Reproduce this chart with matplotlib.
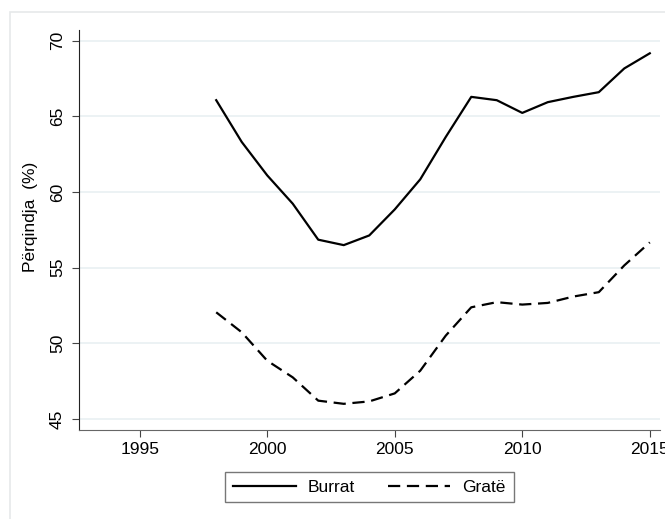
import matplotlib.pyplot as plt
from matplotlib.patches import Rectangle

plt.rcParams['font.family'] = ['Liberation Sans', 'DejaVu Sans']

# data
years = list(range(1998, 2016))
burrat = [66.07, 63.31, 61.10, 59.23, 56.85, 56.49, 57.13, 58.85, 60.84, 63.64,
          66.29, 66.07, 65.23, 65.94, 66.29, 66.60, 68.17, 69.17]
grate = [52.05, 50.73, 48.85, 47.75, 46.21, 46.00, 46.16, 46.69, 48.19, 50.51,
         52.38, 52.72, 52.56, 52.67, 53.09, 53.38, 55.15, 56.67]
x_ticks = [1995, 2000, 2005, 2010, 2015]
y_ticks = [45, 50, 55, 60, 65, 70]

W, H = 665, 519
fig = plt.figure(figsize=(W / 100, H / 100), dpi=100)

# outer light frame (cut at right/bottom like the reference)
fig.patches.append(Rectangle((10 / W, -0.1), 1.2, (H - 12) / H + 0.1,
                             transform=fig.transFigure, fill=False,
                             edgecolor='#e6e9ea', linewidth=1.2))

ax = fig.add_axes([79 / W, (H - 430) / H, (660 - 79) / W, (430 - 30) / H])
ax.plot(years, burrat, color='black', linewidth=1.6, label='Burrat')
ax.plot(years, grate, color='black', linewidth=1.6, linestyle=(0, (5.5, 3)),
        label='Gratë')

ax.set_xlim(1992.62, 2015.40)
ax.set_ylim(44.27, 70.71)
ax.set_xticks(x_ticks)
ax.set_yticks(y_ticks)
ax.tick_params(axis='y', labelrotation=90, labelsize=12.5, length=5,
               color='#444444', pad=5)
for lbl in ax.get_yticklabels():
    lbl.set_va('center')
ax.tick_params(axis='x', labelsize=12.5, length=5, color='#444444', pad=4)
ax.grid(axis='y', color='#e9f0f2', linewidth=1.2)
ax.set_axisbelow(True)
for s in ['top', 'right']:
    ax.spines[s].set_visible(False)
ax.spines['left'].set_color('#222222')
ax.spines['bottom'].set_color('#666666')
ax.set_ylabel('Përqindja  (%)', fontsize=12.5)
ax.yaxis.set_label_coords(-0.071, 0.534)

leg = fig.legend(loc='center', bbox_to_anchor=(369.5 / W, (H - 487) / H),
                 ncol=2, fontsize=12.5, frameon=True, fancybox=False,
                 edgecolor='#555555', handlelength=3.6, handletextpad=0.7,
                 columnspacing=1.9, borderpad=0.45)
leg.get_frame().set_linewidth(1.0)

fig.savefig('out.png', dpi=100)
